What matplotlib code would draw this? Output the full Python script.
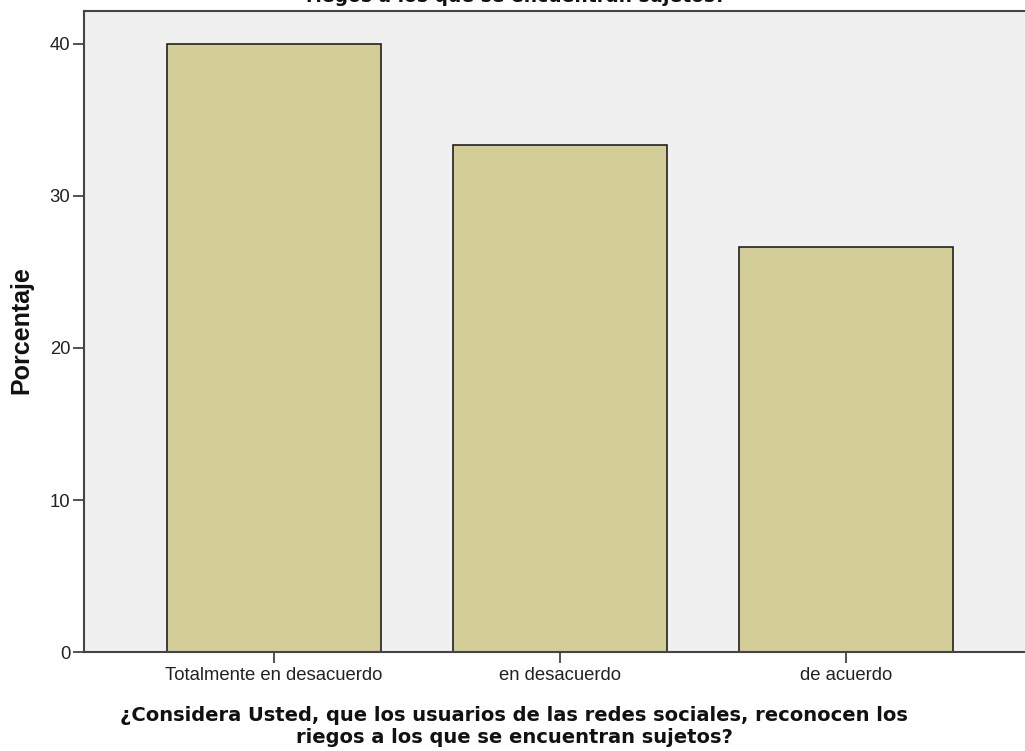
import numpy as np
import matplotlib.pyplot as plt


categorias = ["Totalmente en desacuerdo", "en desacuerdo", "de acuerdo"]
porcentajes = [40.0, 33.33, 26.67]
ticks_y = [0, 10, 20, 30, 40]

titulo = "riegos a los que se encuentran sujetos?"
etiqueta_x = ("¿Considera Usted, que los usuarios de las redes sociales, reconocen los\n"
              "riegos a los que se encuentran sujetos?")
etiqueta_y = "Porcentaje"


fig = plt.figure(figsize=(10.25, 7.51), dpi=100)
ax = fig.add_axes([0.082, 0.1318, 0.918, 0.8536])
ax.set_facecolor("#f0f0f0")

x = np.arange(len(categorias))
ax.bar(x, porcentajes, width=0.748, color="#d3ce97", edgecolor="#222222", linewidth=1.2, zorder=2)

ax.set_xlim(-0.664, 2.626)
ax.set_ylim(0, 42.17)
ax.set_yticks(ticks_y)
ax.set_yticklabels([str(t) for t in ticks_y], fontsize=13.3, family="Liberation Sans", color="#222222")
ax.set_xticks(x)
ax.set_xticklabels(categorias, fontsize=13.3, family="Liberation Sans", color="#222222")
ax.tick_params(axis="x", length=8, width=1.2, color="#333333", pad=3)
ax.tick_params(axis="y", length=8, width=1.2, color="#333333", pad=2)

for lado in ["left", "bottom", "top"]:
    ax.spines[lado].set_color("#444444")
    ax.spines[lado].set_linewidth(1.5)
ax.spines["right"].set_visible(False)

ax.set_xlabel(etiqueta_x, fontsize=14, fontweight="bold", family="DejaVu Sans",
              linespacing=1.23, color="#111111")
ax.xaxis.set_label_coords(0.457, -0.084)
ax.set_ylabel(etiqueta_y, fontsize=18, fontweight="bold", family="Liberation Sans",
              color="#111111")
ax.yaxis.set_label_coords(-0.054, 0.502)

fig.text(0.503, 1 - 1.5 / 751, titulo, ha="center", va="baseline", fontsize=13.5,
         fontweight="bold", family="DejaVu Sans", color="#111111")

fig.savefig("out.png", dpi=100)
